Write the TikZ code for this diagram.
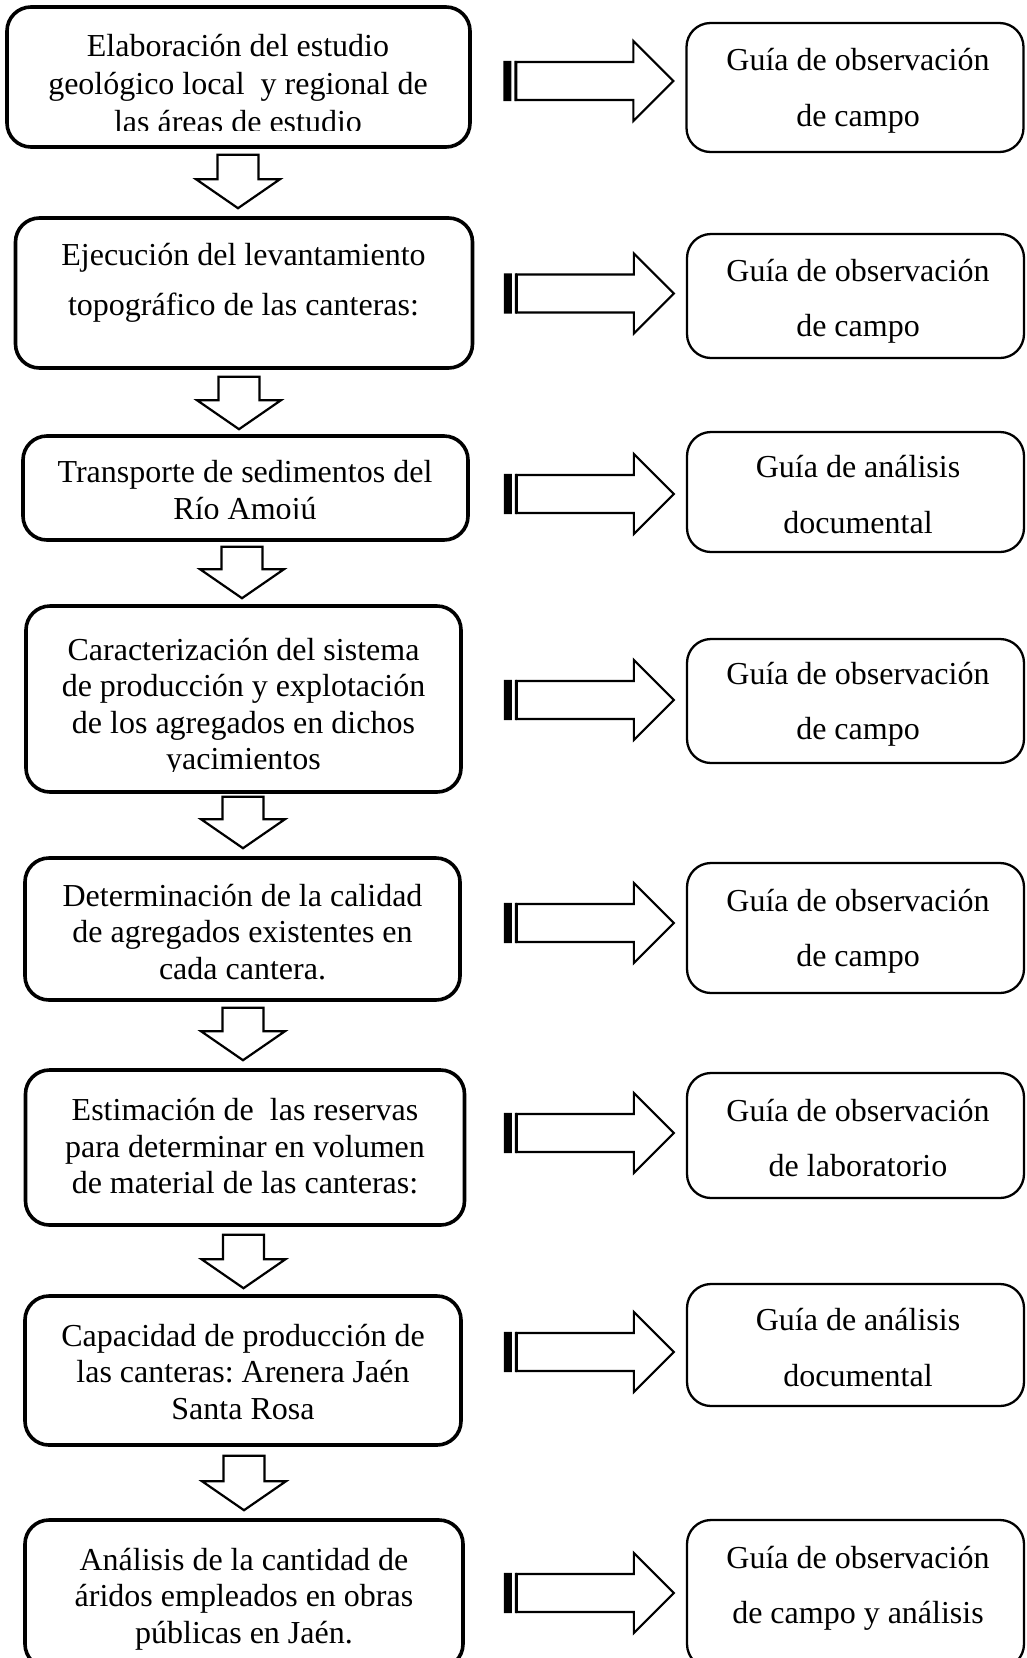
\documentclass[tikz,border=0pt]{standalone}
\usepackage{fontspec}
\setmainfont{Liberation Serif}
\usetikzlibrary{calc}
\frenchspacing
\begin{document}
\begin{tikzpicture}[x=1pt,y=-1pt,
  lbox/.style={draw, line width=3.6pt, rounded corners=24pt, inner sep=0pt},
  rbox/.style={draw, line width=2.3pt, rounded corners=24pt, inner sep=0pt},
  ltxt/.style={anchor=base, align=center, inner sep=0pt, font=\fontsize{32}{36.5}\selectfont},
  rtxt/.style={anchor=base, align=center, inner sep=0pt, font=\fontsize{32}{55.5}\selectfont},
  downblk/.style={draw, line width=2.2pt, fill=white, line join=miter,
    to path={([xshift=-20.5pt]\tikztostart) -- ([xshift=20.5pt]\tikztostart)
      -- ([xshift=20.5pt,yshift=29pt]\tikztotarget) -- ([xshift=42pt,yshift=29pt]\tikztotarget)
      -- (\tikztotarget) -- ([xshift=-42pt,yshift=29pt]\tikztotarget)
      -- ([xshift=-20.5pt,yshift=29pt]\tikztotarget) -- cycle}},
  rightblk/.style={draw, line width=2.2pt, fill=white, line join=miter,
    to path={([xshift=13pt,yshift=19pt]\tikztostart) -- ([xshift=-40pt,yshift=19pt]\tikztotarget)
      -- ([xshift=-40pt,yshift=40pt]\tikztotarget) -- (\tikztotarget)
      -- ([xshift=-40pt,yshift=-40pt]\tikztotarget) -- ([xshift=-40pt,yshift=-19pt]\tikztotarget)
      -- ([xshift=13pt,yshift=-19pt]\tikztostart) -- cycle}},
  stripes/.style={fill=black,
    to path={([yshift=20.1pt]\tikztostart) rectangle ([xshift=8pt,yshift=-20.1pt]\tikztostart)
      ([xshift=11pt,yshift=20.1pt]\tikztostart) rectangle ([xshift=13pt,yshift=-20.1pt]\tikztostart)}}
]
\useasboundingbox (0,0) rectangle (1026,1658);
\fill[white] (0,0) rectangle (1026,1658);
\clip (0,0) rectangle (1026,1658);

% left boxes
\node[lbox, minimum width=463pt, minimum height=140pt] (L1) at (238.5,77) {};
\node[lbox, minimum width=457pt, minimum height=150pt] (L2) at (244,293) {};
\node[lbox, minimum width=445pt, minimum height=104pt] (L3) at (245.5,488) {};
\node[lbox, minimum width=435pt, minimum height=186pt] (L4) at (243.5,699) {};
\node[lbox, minimum width=435pt, minimum height=142pt] (L5) at (242.5,929) {};
\node[lbox, minimum width=439pt, minimum height=155pt] (L6) at (245,1147.5) {};
\node[lbox, minimum width=436pt, minimum height=149pt] (L7) at (243,1370.5) {};
\node[lbox, minimum width=438pt, minimum height=148pt] (L8) at (244,1594) {};

% right boxes
\node[rbox, minimum width=337pt, minimum height=129pt] (R1) at (855,87.5) {};
\node[rbox, minimum width=337pt, minimum height=124pt] (R2) at (855.5,296) {};
\node[rbox, minimum width=337pt, minimum height=120pt] (R3) at (855.5,492) {};
\node[rbox, minimum width=337pt, minimum height=124pt] (R4) at (855.5,701) {};
\node[rbox, minimum width=337pt, minimum height=130pt] (R5) at (855.5,928) {};
\node[rbox, minimum width=337pt, minimum height=125pt] (R6) at (855.5,1135.5) {};
\node[rbox, minimum width=337pt, minimum height=122pt] (R7) at (855.5,1345) {};
\node[rbox, minimum width=337pt, minimum height=148pt] (R8) at (855.5,1594) {};

% left texts (anchor = baseline of the last line)
\begin{scope}
\clip (0,0) rectangle (1026,130);
\node[ltxt, font=\fontsize{32}{38}\selectfont] (t1) at (238,132) {Elaboración del estudio\\geológico local\ \ y regional de\\las áreas de estudio};
\end{scope}
\node[ltxt, font=\fontsize{32}{50}\selectfont] (t2) at (243.5,315) {Ejecución del levantamiento\\topográfico de las canteras:};
\begin{scope}
\clip (0,440) rectangle (1026,518);
\node[ltxt] (t3) at (245,519) {Transporte de sedimentos del\\Río Amojú};
\end{scope}
\begin{scope}
\clip (0,610) rectangle (1026,771);
\node[ltxt] (t4) at (243.5,769.5) {Caracterización del sistema\\de producción y explotación\\de los agregados en dichos\\yacimientos};
\end{scope}
\node[ltxt] (t5) at (242.5,979) {Determinación de la calidad\\de agregados existentes en\\cada cantera.};
\node[ltxt] (t6) at (245,1193.5) {Estimación de\ \ las reservas\\para determinar en volumen\\de material de las canteras:};
\node[ltxt] (t7) at (243,1419) {Capacidad de producción de\\las canteras: Arenera Jaén\\Santa Rosa};
\node[ltxt] (t8) at (244,1643) {Análisis de la cantidad de\\áridos empleados en obras\\públicas en Jaén.};

% right texts (anchor = baseline of the last line)
\node[rtxt] (s1) at (858,126) {Guía de observación\\de campo};
\node[rtxt] (s2) at (858,336.5) {Guía de observación\\de campo};
\node[rtxt] (s3) at (858,533) {Guía de análisis\\documental};
\node[rtxt] (s4) at (858,739.5) {Guía de observación\\de campo};
\node[rtxt] (s5) at (858,966.5) {Guía de observación\\de campo};
\node[rtxt] (s6) at (858,1176.5) {Guía de observación\\de laboratorio};
\node[rtxt] (s7) at (858,1386) {Guía de análisis\\documental};
\node[rtxt] (s8) at (858,1623.5) {Guía de observación\\de campo y análisis};

% down block arrows
\foreach \a/\b/\x/\gs/\ge in {L1/L2/238/6/8, L2/L3/239/7/5, L3/L4/242/5/6, L4/L5/243/3/8,
                               L5/L6/243/6/8, L6/L7/243.5/8/6, L7/L8/244/9/8}{
  \draw[downblk] ($(\a.south -| \x,0)+(0,\gs)$) to ($(\b.north -| \x,0)-(0,\ge)$);
}

% right block arrows with striped tails
\foreach \r/\dy in {R1/-6.5, R2/-2.5, R3/2, R4/-1, R5/-5, R6/-2.5, R7/7, R8/-1}{
  \coordinate (tail\r) at ($(\r.west)+(-182,\dy)$);
  \coordinate (tip\r) at ($(\r.west)+(-12,\dy)$);
  \path[stripes] (tail\r) to (tip\r);
  \draw[rightblk] (tail\r) to (tip\r);
}
\end{tikzpicture}
\end{document}
